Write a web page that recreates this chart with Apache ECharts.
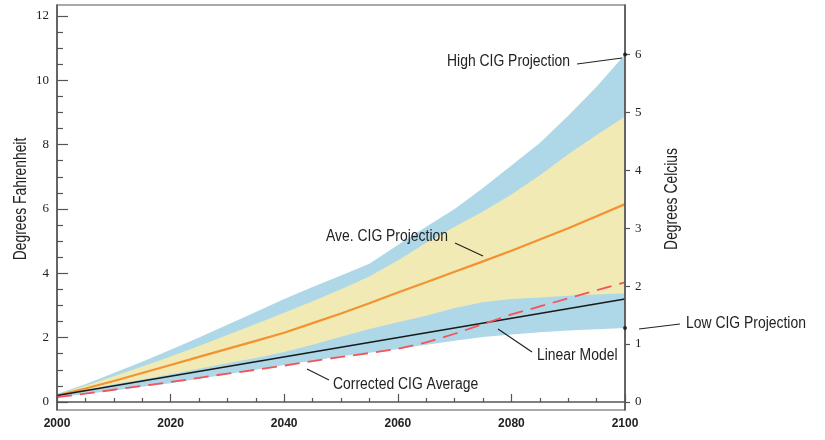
<!DOCTYPE html>
<html>
<head>
<meta charset="utf-8">
<script src="https://cdn.jsdelivr.net/npm/echarts@6/dist/echarts.min.js"></script>
<style>
html,body{margin:0;padding:0;background:#fff;}
#chart{width:825px;height:440px;}
</style>
</head>
<body>
<div id="chart"></div>
<script>
// ---- data (degrees Fahrenheit) ----
const years = [2000,2005,2010,2015,2020,2025,2030,2035,2040,2045,2050,2055,2060,2065,2070,2075,2080,2085,2090,2095,2100];
const highProj    = [0.25,0.55,0.90,1.25,1.62,2.00,2.40,2.80,3.20,3.57,3.93,4.30,4.88,5.45,6.00,6.65,7.35,8.05,8.90,9.80,10.80];
const likelyTop   = [0.22,0.50,0.80,1.10,1.41,1.74,2.08,2.42,2.77,3.13,3.50,3.90,4.40,4.95,5.45,5.92,6.45,7.05,7.70,8.30,8.87];
const aveProj     = [0.20,0.42,0.65,0.90,1.15,1.40,1.65,1.90,2.15,2.45,2.75,3.07,3.40,3.72,4.05,4.37,4.70,5.05,5.40,5.77,6.15];
const likelyBot   = [0.20,0.38,0.55,0.70,0.86,1.03,1.20,1.37,1.55,1.78,2.03,2.27,2.48,2.68,2.92,3.10,3.20,3.25,3.30,3.34,3.38];
const lowProj     = [0.15,0.25,0.36,0.47,0.58,0.72,0.86,1.00,1.15,1.28,1.42,1.53,1.65,1.78,1.90,2.02,2.10,2.17,2.22,2.26,2.30];
const corrected   = [0.15,0.26,0.38,0.50,0.62,0.75,0.88,1.00,1.13,1.27,1.40,1.52,1.65,1.85,2.12,2.42,2.72,2.97,3.22,3.47,3.72];
const linearYears = [2000,2100];
const linearModel = [0.20,3.20];
const fTicksMajor = [0,2,4,6,8,10,12];
const fTicksMinor = [0.5,1,1.5,2.5,3,3.5,4.5,5,5.5,6.5,7,7.5,8.5,9,9.5,10.5,11,11.5];
const cTicks = [0,1,2,3,4,5,6];
const endYears = [2100,2100];
const endValues = [10.80,2.30];

const F_MIN = -0.25, F_MAX = 12.34;
const pair = (xs, ys) => xs.map((x,i)=>[x, ys[i]]);

const BLUE = '#aed7e7', YELLOW = '#f2eab5';
const sans = '"Liberation Sans",Arial,sans-serif';
const serif = '"Liberation Serif","DejaVu Serif",serif';

function areaSeries(name, data, color){
  return {name, type:'line', data, symbol:'none', silent:true,
    lineStyle:{width:0}, areaStyle:{color, opacity:1, origin:'start'}, z:1};
}
function label(text, x, y, opts){
  opts = opts || {};
  return {type:'text', x, y, z:100, rotation:opts.rot||0, scaleX:opts.sx||0.87, scaleY:1,
    style:{text, x:0, y:0, font:(opts.size||16)+'px '+sans, fill:'#222',
           align:opts.align||'left', verticalAlign:'middle', textAlign:opts.align||'left', textVerticalAlign:'middle'}};
}
function leader(x1,y1,x2,y2){
  return {type:'line', z:100, shape:{x1,y1,x2,y2}, style:{stroke:'#222', lineWidth:1.2}};
}

const chart = echarts.init(document.getElementById('chart'), null, {renderer:'canvas'});
chart.setOption({
  animation:false,
  backgroundColor:'#fff',
  grid:{left:57, right:200, top:5, bottom:30, show:true, borderColor:'#555', borderWidth:1.2, backgroundColor:'transparent', z:10},
  xAxis:{type:'value', min:2000, max:2100, interval:20, z:10,
    axisLine:{lineStyle:{color:'#555', width:1.5}},
    axisTick:{inside:true, length:8, lineStyle:{color:'#555', width:1.2}},
    minorTick:{show:true, splitNumber:4, length:4, lineStyle:{color:'#555', width:1.2}},
    splitLine:{show:false},
    axisLabel:{color:'#222', fontFamily:sans, fontWeight:'bold', fontSize:12, margin:8, formatter:v=>String(v)}
  },
  yAxis:[
    {type:'value', position:'left', min:F_MIN, max:F_MAX, z:10,
     axisLine:{show:true, lineStyle:{color:'#555', width:1.5}},
     axisTick:{show:true, inside:true, length:11, customValues:fTicksMajor, lineStyle:{color:'#555', width:1.2}},
     axisLabel:{customValues:fTicksMajor, color:'#222', fontFamily:serif, fontSize:13, margin:8},
     splitLine:{show:false}},
    {type:'value', position:'left', min:F_MIN, max:F_MAX, z:10,
     axisLine:{show:false},
     axisTick:{show:true, inside:true, length:6, customValues:fTicksMinor, lineStyle:{color:'#555', width:1.2}},
     axisLabel:{show:false}, splitLine:{show:false}},
    {type:'value', position:'right', min:F_MIN/1.8, max:F_MAX/1.8, z:10,
     axisLine:{show:true, lineStyle:{color:'#555', width:1.5}},
     axisTick:{show:true, inside:false, length:5, customValues:cTicks, lineStyle:{color:'#555', width:1.2}},
     axisLabel:{customValues:cTicks, color:'#222', fontFamily:serif, fontSize:13, margin:10},
     splitLine:{show:false}}
  ],
  series:[
    areaSeries('High CIG Projection', pair(years, highProj), BLUE),
    areaSeries('Likely upper', pair(years, likelyTop), YELLOW),
    areaSeries('Likely lower', pair(years, likelyBot), BLUE),
    areaSeries('Low CIG Projection', pair(years, lowProj), '#ffffff'),
    {name:'Ave. CIG Projection', type:'line', data:pair(years, aveProj), symbol:'none', z:5,
     lineStyle:{color:'#f39230', width:2.2}},
    {name:'Linear Model', type:'line', data:pair(linearYears, linearModel), symbol:'none', z:6,
     lineStyle:{color:'#1a1a1a', width:1.6}},
    {name:'Corrected CIG Average', type:'line', data:pair(years, corrected), symbol:'none', z:7,
     lineStyle:{color:'#f2545a', width:1.8, type:[15,8]}},
    {name:'ends', type:'scatter', data:pair(endYears, endValues), symbol:'circle', symbolSize:4, z:12,
     itemStyle:{color:'#111'}}
  ],
  graphic:[
    label('Degrees Fahrenheit', 21, 199, {rot:Math.PI/2, align:'center', size:19, sx:0.73}),
    label('Degrees Celcius', 672, 199, {rot:Math.PI/2, align:'center', size:19, sx:0.73}),
    label('High CIG Projection', 447, 62),
    leader(577, 64, 622, 58),
    label('Ave. CIG Projection', 326, 237),
    leader(455, 243, 483, 256),
    label('Linear Model', 537, 356),
    leader(498, 329, 532, 352),
    label('Corrected CIG Average', 333, 385),
    leader(307, 369, 329, 380),
    label('Low CIG Projection', 686, 324),
    leader(639, 329, 680, 324)
  ]
});
</script>
</body>
</html>
